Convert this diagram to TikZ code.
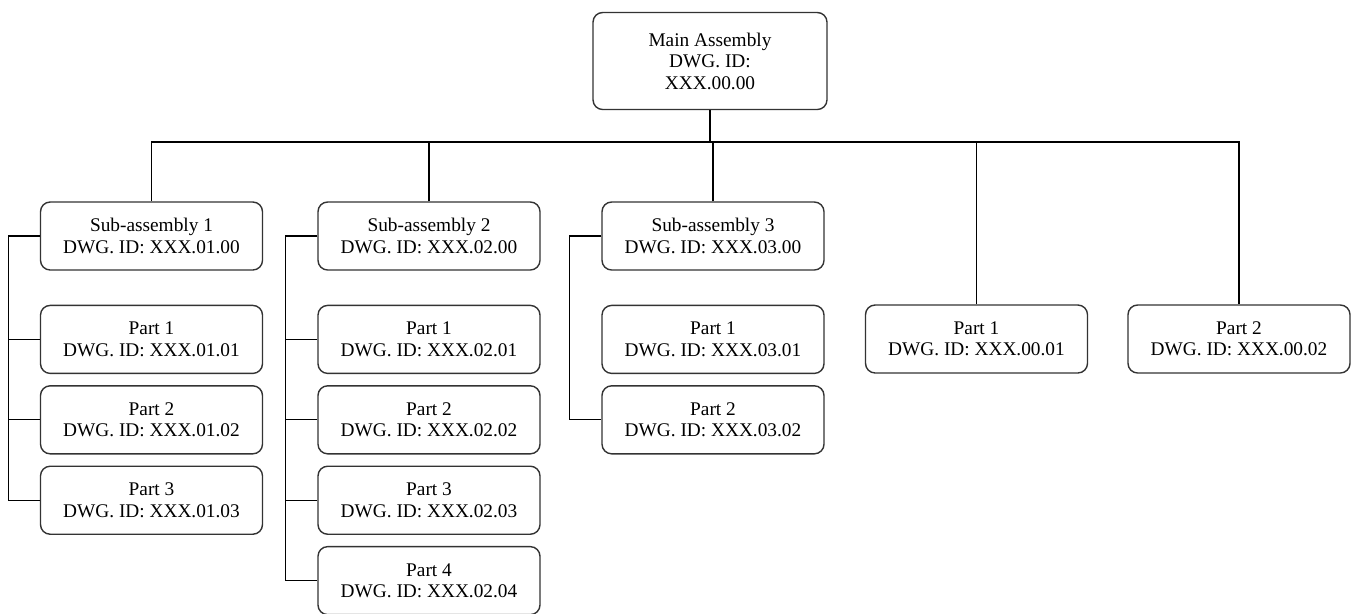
\documentclass[tikz,border=0pt]{standalone}
\usepackage{fontspec}
\setmainfont{Liberation Serif}
\usetikzlibrary{positioning}
\definecolor{edge}{HTML}{333333}

\begin{document}
\begin{tikzpicture}[node distance=0.22cm and 1.0cm,
    box/.style={draw=edge, line width=0.8pt, rounded corners=5.5pt, fill=white,
                align=center, minimum width=4.44cm, minimum height=1.36cm,
                inner sep=2pt, font=\fontsize{11}{12.2}\selectfont},
    link/.style={draw=black, line width=0.7pt}]
      \useasboundingbox (0,0) rectangle (27.08,-12.26);

      % top level
      \node[box, minimum width=4.68cm, minimum height=1.94cm] (main) at (14.2,-1.22)
        {Main Assembly\\ DWG. ID:\\ XXX.00.00};
      \coordinate (bus) at (14.2,-2.84);

      % second level
      \node[box] (subA) at (3.03,-4.72) {Sub-assembly 1\\ DWG. ID: XXX.01.00};
      \node[box] (subB) at (8.58,-4.72) {Sub-assembly 2\\ DWG. ID: XXX.02.00};
      \node[box] (subC) at (14.26,-4.72) {Sub-assembly 3\\ DWG. ID: XXX.03.00};
      \node[box] (partX1) at (19.53,-6.78) {Part 1\\ DWG. ID: XXX.00.01};
      \node[box] (partX2) at (24.78,-6.78) {Part 2\\ DWG. ID: XXX.00.02};

      % parts of sub-assembly 1
      \node[box, below=0.68cm of subA] (partA1) {Part 1\\ DWG. ID: XXX.01.01};
      \node[box, below=of partA1] (partA2) {Part 2\\ DWG. ID: XXX.01.02};
      \node[box, below=of partA2] (partA3) {Part 3\\ DWG. ID: XXX.01.03};

      % parts of sub-assembly 2
      \node[box, below=0.68cm of subB] (partB1) {Part 1\\ DWG. ID: XXX.02.01};
      \node[box, below=of partB1] (partB2) {Part 2\\ DWG. ID: XXX.02.02};
      \node[box, below=of partB2] (partB3) {Part 3\\ DWG. ID: XXX.02.03};
      \node[box, below=of partB3] (partB4) {Part 4\\ DWG. ID: XXX.02.04};

      % parts of sub-assembly 3
      \node[box, below=0.68cm of subC] (partC1) {Part 1\\ DWG. ID: XXX.03.01};
      \node[box, below=of partC1] (partC2) {Part 2\\ DWG. ID: XXX.03.02};

      % tree lines
      \draw[link] (main.south) -- (main.south |- bus);
      \draw[link] (subA.north) |- (partX2.north |- bus) -- (partX2.north);
      \foreach \n in {subB, subC, partX1}
        \draw[link] (\n.north) -- (\n.north |- bus);

      \draw[link] (subA.west) -- ++(-0.63,0) coordinate (spineA) |- (partA3.west);
      \foreach \p in {partA1, partA2}
        \draw[link] (\p.west) -- (\p.west -| spineA);
      \draw[link] (subB.west) -- ++(-0.63,0) coordinate (spineB) |- (partB4.west);
      \foreach \p in {partB1, partB2, partB3}
        \draw[link] (\p.west) -- (\p.west -| spineB);
      \draw[link] (subC.west) -- ++(-0.63,0) |- (partC2.west);
    \end{tikzpicture}
\end{document}
